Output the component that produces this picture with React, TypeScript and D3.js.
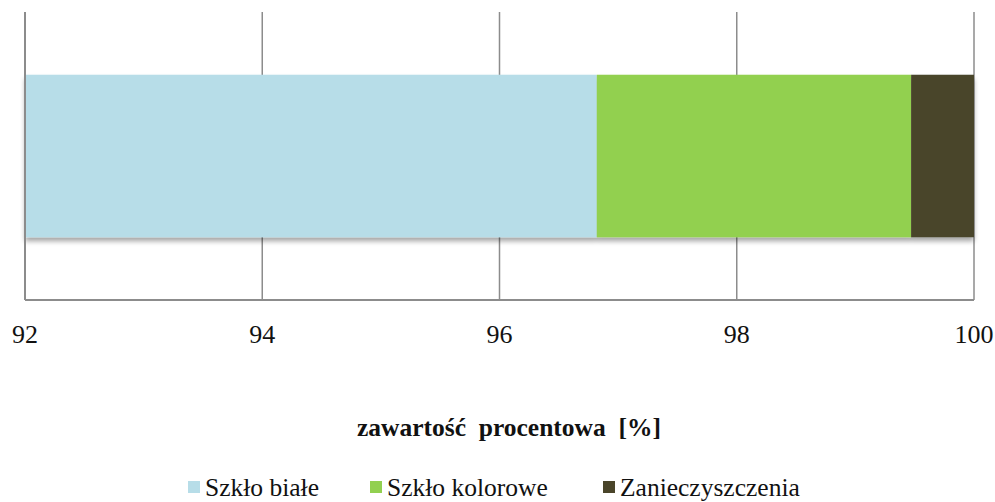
import React from "react";
import * as d3 from "d3";

const categories = ["Szkło"];
const seriesNames = ["Szkło białe", "Szkło kolorowe", "Zanieczyszczenia"];
const seriesValues = [96.82, 2.65, 0.53];
const seriesColors = ["#B7DDE8", "#92D050", "#4A452A"];
const xTicks = [92, 94, 96, 98, 100];
const axisTitle = "zawartość  procentowa  [%]";

const W = 995;
const H = 502;
const M = { left: 25, right: 21, top: 12, bottom: 202 };

export default function App() {
  const x = d3.scaleLinear().domain([92, 100]).range([M.left, W - M.right]);
  const y = d3
    .scaleBand()
    .domain(categories)
    .range([M.top, H - M.bottom])
    .paddingInner(0.43)
    .paddingOuter(0.22);

  let cum = 0;
  const segs = seriesValues.map((v, i) => {
    const start = cum;
    cum += v;
    return { name: seriesNames[i], start: Math.max(start, 92), end: cum, color: seriesColors[i] };
  });

  const legendItems = [
    { x: 188, tx: 205 },
    { x: 370, tx: 387 },
    { x: 603, tx: 620 },
  ];
  const font = '"Liberation Serif", "Times New Roman", "DejaVu Serif", serif';

  return (
    <svg width={W} height={H} style={{ position: "absolute", left: 0, top: 0 }}>
      <defs>
        <filter id="shadow" x="-5%" y="-10%" width="110%" height="130%">
          <feGaussianBlur in="SourceAlpha" stdDeviation="2.5" />
          <feOffset dx="0" dy="4" result="off" />
          <feComponentTransfer>
            <feFuncA type="linear" slope="0.35" />
          </feComponentTransfer>
          <feMerge>
            <feMergeNode />
            <feMergeNode in="SourceGraphic" />
          </feMerge>
        </filter>
      </defs>
      <rect width={W} height={H} fill="#fff" />
      {xTicks.map((t) => (
        <line
          key={t}
          x1={x(t)}
          x2={x(t)}
          y1={M.top}
          y2={H - M.bottom}
          stroke="#8c8c8c"
          strokeWidth={1.5}
        />
      ))}
      {categories.map((c) => (
        <g key={c} filter="url(#shadow)">
          {segs.map((s) => (
            <rect
              key={s.name}
              x={x(s.start)}
              width={x(s.end) - x(s.start)}
              y={y(c)}
              height={y.bandwidth()}
              fill={s.color}
            />
          ))}
        </g>
      ))}
      <line x1={M.left} x2={M.left} y1={M.top} y2={H - M.bottom} stroke="#8c8c8c" strokeWidth={2} />
      <line x1={M.left} x2={W - M.right} y1={H - M.bottom} y2={H - M.bottom} stroke="#8c8c8c" strokeWidth={2} />
      <g style={{ fontFamily: font }} fill="#111">
        {xTicks.map((t) => (
          <text key={t} x={x(t)} y={343} textAnchor="middle" fontSize={26}>
            {t}
          </text>
        ))}
        <text
          x={509}
          y={436}
          textAnchor="middle"
          fontSize={25.5}
          fontWeight="bold"
          style={{ whiteSpace: "pre" }}
        >
          {axisTitle}
        </text>
        {seriesNames.map((n, i) => (
          <g key={n}>
            <rect x={legendItems[i].x} y={481} width={12} height={12} fill={seriesColors[i]} />
            <text x={legendItems[i].tx} y={495.5} fontSize={25.5}>
              {n}
            </text>
          </g>
        ))}
      </g>
    </svg>
  );
}
